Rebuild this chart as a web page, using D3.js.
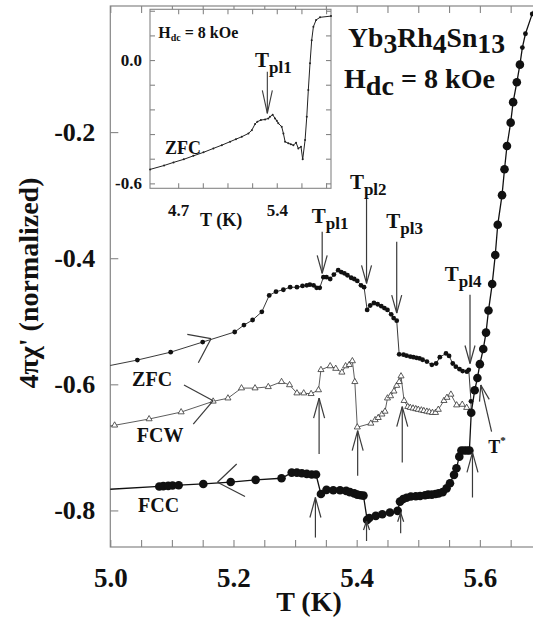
<!DOCTYPE html>
<html><head><meta charset="utf-8">
<script src="https://cdn.jsdelivr.net/npm/d3@7"></script>
<style>
body{margin:0;background:#fff}
svg{display:block}
text{font-family:"Liberation Serif","Times New Roman",serif;font-weight:bold;fill:#111}
</style>
</head><body>
<svg id="c" width="533" height="624"></svg>
<script>
// ---------------- data (T in K, 4πχ' normalized) ----------------
const zfcT = [4.98,5.044,5.098,5.150,5.202,5.217,5.231,5.246,5.258,5.269,5.281,5.292,5.303,5.312,5.319,5.324,5.330,5.335,5.340,
  5.346,5.351,5.357,5.363,5.370,5.375,5.380,5.385,5.391,5.396,5.401,5.407,5.412,
  5.417,5.422,5.428,5.434,5.440,5.445,5.450,5.456,5.460,5.465,
  5.469,5.476,5.481,5.487,5.492,5.497,5.502,5.507,5.514,5.522,5.529,5.535,5.545,5.550,5.556,5.561,5.567,5.572,5.579,5.582,5.5856,5.586];
const zfcV = [-0.574,-0.5615,-0.549,-0.533,-0.517,-0.506,-0.498,-0.485,-0.459,-0.453,-0.450,-0.446,-0.446,-0.444,-0.443,-0.442,-0.443,-0.447,-0.447,
  -0.430,-0.430,-0.433,-0.426,-0.419,-0.422,-0.424,-0.427,-0.431,-0.433,-0.436,-0.443,-0.446,
  -0.482,-0.475,-0.471,-0.473,-0.476,-0.479,-0.482,-0.489,-0.495,-0.499,
  -0.5525,-0.553,-0.5545,-0.556,-0.557,-0.558,-0.559,-0.561,-0.564,-0.569,-0.567,-0.557,-0.551,-0.555,-0.567,-0.572,-0.576,-0.579,-0.580,-0.577,-0.627,-0.645];

const fcwT = [4.98,5.007,5.063,5.115,5.167,5.191,5.213,5.235,5.2565,5.278,5.291,5.303,5.314,5.326,5.338,
  5.342,5.357,5.366,5.376,5.382,5.388,5.393,5.397,
  5.401,5.423,5.430,5.435,5.441,5.446,5.450,5.455,5.4605,5.465,5.469,5.472,
  5.477,5.483,5.487,5.4915,5.496,5.500,5.505,5.509,5.514,5.518,5.523,5.528,5.5325,5.5417,5.5466,5.553,5.5623,5.5714,5.5786,5.586];
const fcwV = [-0.669,-0.665,-0.655,-0.644,-0.627,-0.622,-0.606,-0.606,-0.604,-0.596,-0.601,-0.614,-0.614,-0.615,-0.609,
  -0.577,-0.571,-0.575,-0.581,-0.571,-0.569,-0.563,-0.596,
  -0.668,-0.662,-0.6565,-0.653,-0.6475,-0.643,-0.622,-0.6185,-0.611,-0.602,-0.596,-0.587,
  -0.626,-0.6355,-0.637,-0.638,-0.639,-0.640,-0.641,-0.642,-0.643,-0.644,-0.645,-0.645,-0.640,-0.626,-0.621,-0.616,-0.633,-0.632,-0.637,-0.645];

const fccT = [4.98,5.0795,5.086,5.094,5.101,5.111,5.151,5.1955,5.236,5.278,5.2945,5.303,5.311,5.319,5.327,5.334,
  5.342,5.351,5.362,5.373,5.383,5.389,5.396,5.401,5.4065,5.411,
  5.417,5.4205,5.431,5.4416,5.454,5.4665,
  5.4703,5.4756,5.481,5.488,5.496,5.503,5.511,5.516,5.522,5.528,5.533,5.5396,5.546,5.5515,5.558,5.562,5.5666,
  5.570,5.5745,5.579,5.583,
  5.586,5.5916,5.596,5.600,5.6055,5.610,5.614,5.620,5.625,5.629,5.636,5.640,5.644,5.650,5.654,5.660,5.665];
const fccV = [-0.7675,-0.762,-0.7615,-0.761,-0.7605,-0.760,-0.758,-0.755,-0.7515,-0.749,-0.740,-0.740,-0.741,-0.742,-0.743,-0.743,
  -0.774,-0.7674,-0.768,-0.768,-0.769,-0.771,-0.773,-0.775,-0.776,-0.7765,
  -0.815,-0.812,-0.8086,-0.806,-0.8033,-0.8007,
  -0.786,-0.782,-0.780,-0.778,-0.7774,-0.777,-0.776,-0.775,-0.775,-0.774,-0.773,-0.771,-0.765,-0.757,-0.7436,-0.733,-0.7147,
  -0.705,-0.705,-0.705,-0.705,
  -0.645,-0.6095,-0.590,-0.568,-0.544,-0.518,-0.483,-0.441,-0.395,-0.347,-0.300,-0.259,-0.222,-0.185,-0.1525,-0.121,-0.093];
// continuation of the steep rise (smaller symbols)
const riseT = [5.665,5.669,5.674,5.685,5.692];
const riseV = [-0.093,-0.066,-0.044,-0.0125,0.004];

// inset ZFC curve
const insT = [4.501,4.60,4.667,4.74,4.808,4.88,4.95,5.01,5.069,5.11,5.152,5.199,5.223,5.246,5.262,5.287,5.317,5.34,5.352,5.371,
  5.388,5.40,5.411,5.435,5.447,5.459,5.482,5.50,5.518,5.537,5.553,5.572,5.584,5.601,5.613,5.624,5.636,5.648,5.66,5.679,5.707,5.785];
const insV = [-0.532,-0.513,-0.498,-0.483,-0.466,-0.449,-0.430,-0.414,-0.397,-0.385,-0.373,-0.357,-0.341,-0.311,-0.300,-0.292,-0.289,-0.284,-0.276,-0.266,
  -0.284,-0.295,-0.308,-0.324,-0.357,-0.397,-0.405,-0.410,-0.414,-0.402,-0.430,-0.422,-0.483,-0.389,-0.276,-0.146,-0.016,0.097,0.162,0.195,0.208,0.214];

// ticks
const xTickVals = d3.range(0,14).map(i => +(5 + i*0.05).toFixed(2));
const xTickLabels = [5.0,5.2,5.4,5.6];
const yTickVals = [-0.8,-0.6,-0.4,-0.2];
const insXTickVals = [4.7,4.875,5.05,5.225,5.4,5.575,5.75];
const insXTickLabels = [4.7,5.4];
const insYTickVals = [-0.6,-0.48,-0.36,-0.24,-0.12,0.0,0.12,0.24];
const insYTickLabels = [-0.6,0.0];

// annotations (data coordinates)
const plArrows = [ // downward arrows from T_pl labels
  {T:5.344, tip:-0.424, tail:-0.358, lab:"pl1", lT:5.327, lV:-0.344},
  {T:5.416, tip:-0.440, tail:-0.306, lab:"pl2", lT:5.389, lV:-0.290},
  {T:5.465, tip:-0.487, tail:-0.374, lab:"pl3", lT:5.448, lV:-0.352},
  {T:5.584, tip:-0.567, tail:-0.458, lab:"pl4", lT:5.543, lV:-0.436}
];
const upArrows = [
  {T:5.339, tip:-0.622, tail:-0.7105, big:true},
  {T:5.4016, tip:-0.6735, tail:-0.745, big:true},
  {T:5.474, tip:-0.6355, tail:-0.724, big:true},
  {T:5.333, tip:-0.7795, tail:-0.843, big:true},
  {T:5.416, tip:-0.8168, tail:-0.8485, big:false},
  {T:5.4714, tip:-0.8036, tail:-0.836, big:false},
  {T:5.588, tip:-0.708, tail:-0.7795, big:true}
];
const tStar = {T1:5.619, V1:-0.675, T2:5.6015, V2:-0.601, lT:5.6137, lV:-0.709};
const sweepMarks = [ // direction arrowheads next to the labels
  {v:[5.1635,-0.5276], a:[5.125,-0.5207], b:[5.1429,-0.5657]},
  {v:[5.167,-0.626], a:[5.1196,-0.601], b:[5.1347,-0.663]},
  {v:[5.174,-0.7554], a:[5.2052,-0.7264], b:[5.2187,-0.778]}
];
const seriesLabels = [
  {t:"ZFC", T:5.0354, V:-0.6027},
  {t:"FCW", T:5.0429, V:-0.6915},
  {t:"FCC", T:5.045, V:-0.802}
];

// ---------------- drawing ----------------
const svg = d3.select("#c");
const x = d3.scaleLinear().domain([5.0, 5.69]).range([110.3, 535.3]);
const y = d3.scaleLinear().domain([-0.858, 0.0]).range([547, 6]);
const AX = "#858585", INK = "#111", ARW = "#3a3a3a";

svg.append("defs").append("clipPath").attr("id","plot")
  .append("rect").attr("x",x(5.0)).attr("y",y(0)).attr("width",x(5.69)-x(5.0)).attr("height",y(-0.858)-y(0));

// frame
svg.append("rect").attr("x",x(5.0)).attr("y",y(0)).attr("width",x(5.69)-x(5.0)).attr("height",y(-0.858)-y(0))
  .attr("fill","none").attr("stroke",AX).attr("stroke-width",1.2);

function styleAxis(g, fs){
  g.select(".domain").remove();
  g.selectAll(".tick line").attr("stroke",AX).attr("stroke-width",1.1);
  g.selectAll(".tick text").attr("fill",INK).style("font-size",fs+"px")
    .style("font-family","'Liberation Serif','Times New Roman',serif").style("font-weight","bold");
}
const fmtX = d => xTickLabels.some(v => Math.abs(v-d)<1e-6) ? d.toFixed(1) : "";
svg.append("g").attr("transform",`translate(0,${y(-0.858)})`)
  .call(d3.axisBottom(x).tickValues(xTickVals).tickSize(-7).tickPadding(21).tickFormat(fmtX))
  .call(g => styleAxis(g,27));
svg.append("g").attr("transform",`translate(0,${y(0)})`)
  .call(d3.axisTop(x).tickValues(xTickVals).tickSize(-7).tickFormat(""))
  .call(g => styleAxis(g,27));
svg.append("g").attr("transform",`translate(${x(5.0)},0)`)
  .call(d3.axisLeft(y).tickValues(yTickVals).tickSize(-8).tickPadding(15).tickFormat(d => d.toFixed(1)))
  .call(g => styleAxis(g,26));

// axis titles
svg.append("text").attr("x", 309).attr("y",611).attr("text-anchor","middle")
  .style("font-size","28px").text("T (K)");
svg.append("text").attr("transform","translate(38,283) rotate(-90)").attr("text-anchor","middle")
  .style("font-size","28px").text("4πχ' (normalized)");

// data
const plot = svg.append("g").attr("clip-path","url(#plot)");
const line = d3.line().x(d=>x(d[0])).y(d=>y(d[1]));
const zfc = zfcT.map((t,i)=>[t,zfcV[i]]);
const fcw = fcwT.map((t,i)=>[t,fcwV[i]]);
const fcc = fccT.map((t,i)=>[t,fccV[i]]);
const rise = riseT.map((t,i)=>[t,riseV[i]]);

plot.append("path").datum(fcw).attr("d",line).attr("fill","none").attr("stroke","#333").attr("stroke-width",0.8);
plot.append("path").datum(zfc).attr("d",line).attr("fill","none").attr("stroke","#222").attr("stroke-width",0.9);
plot.append("path").datum(fcc).attr("d",line).attr("fill","none").attr("stroke",INK).attr("stroke-width",1.3);
plot.append("path").datum(rise).attr("d",line).attr("fill","none").attr("stroke",INK).attr("stroke-width",1.3);

plot.selectAll(".fcw").data(fcw.slice(1, fcw.length-1)).join("path")
  .attr("transform",d=>`translate(${x(d[0])},${y(d[1])})`)
  .attr("d",d3.symbol(d3.symbolTriangle,16)).attr("fill","#fff").attr("stroke","#333").attr("stroke-width",0.8);
plot.selectAll(".zfc").data(zfc.slice(1, zfc.length-1)).join("circle")
  .attr("cx",d=>x(d[0])).attr("cy",d=>y(d[1])).attr("r",2.4).attr("fill",INK);
plot.selectAll(".fcc").data(fcc.slice(1)).join("circle")
  .attr("cx",d=>x(d[0])).attr("cy",d=>y(d[1])).attr("r",4.3).attr("fill",INK);
plot.selectAll(".rise").data(rise.slice(1)).join("circle")
  .attr("cx",d=>x(d[0])).attr("cy",d=>y(d[1])).attr("r",2.4).attr("fill",INK);

// arrows
function arrow(g, x1,y1,x2,y2, len, hw){
  const dx=x2-x1, dy=y2-y1, L=Math.hypot(dx,dy), ux=dx/L, uy=dy/L;
  const bx=x2-ux*len, by=y2-uy*len;
  g.append("line").attr("x1",x1).attr("y1",y1).attr("x2",x2).attr("y2",y2);
  g.append("line").attr("x1",bx-uy*hw).attr("y1",by+ux*hw).attr("x2",x2).attr("y2",y2);
  g.append("line").attr("x1",bx+uy*hw).attr("y1",by-ux*hw).attr("x2",x2).attr("y2",y2);
}
const ag = svg.append("g").attr("stroke",ARW).attr("stroke-width",1.2).attr("fill","none");
plArrows.forEach(a => arrow(ag, x(a.T), y(a.tail), x(a.T), y(a.tip), 18, 5));
upArrows.forEach(a => arrow(ag, x(a.T), y(a.tail), x(a.T), y(a.tip), a.big?20:9, a.big?5.5:3));
arrow(ag, x(tStar.T1), y(tStar.V1), x(tStar.T2), y(tStar.V2), 16, 5);
sweepMarks.forEach(s => {
  ag.append("line").attr("x1",x(s.a[0])).attr("y1",y(s.a[1])).attr("x2",x(s.v[0])).attr("y2",y(s.v[1]));
  ag.append("line").attr("x1",x(s.b[0])).attr("y1",y(s.b[1])).attr("x2",x(s.v[0])).attr("y2",y(s.v[1]));
});

// labels
plArrows.forEach(a => {
  const t = svg.append("text").attr("x",x(a.lT)).attr("y",y(a.lV)).style("font-size","21px");
  t.append("tspan").text("T");
  t.append("tspan").attr("dy",6).style("font-size","17px").text(a.lab);
});
const ts = svg.append("text").attr("x",x(tStar.lT)).attr("y",y(tStar.lV)).style("font-size","18px");
ts.append("tspan").text("T");
ts.append("tspan").attr("dy",-9).style("font-size","11px").text("*");
seriesLabels.forEach(s => svg.append("text").attr("x",x(s.T)).attr("y",y(s.V)).style("font-size","20px").text(s.t));

// title
const t1 = svg.append("text").attr("x",348).attr("y",47).style("font-size","27px")
  .attr("textLength",157).attr("lengthAdjust","spacingAndGlyphs");
[["Yb",0],["3",6],["Rh",-6],["4",6],["Sn",-6],["13",6]].forEach(p => t1.append("tspan").attr("dy",p[1]).text(p[0]));
const t2 = svg.append("text").attr("x",344).attr("y",88).style("font-size","28px")
  .attr("textLength",151).attr("lengthAdjust","spacingAndGlyphs");
[["H",0],["dc",7],[" = 8 kOe",-7]].forEach(p => t2.append("tspan").attr("dy",p[1]).text(p[0]));

// ---------------- inset ----------------
const ix = d3.scaleLinear().domain([4.5, 5.785]).range([150, 331]);
const iy = d3.scaleLinear().domain([-0.624, 0.247]).range([188.3, 9.3]);
const ins = svg.append("g");
ins.append("rect").attr("x",ix(4.5)).attr("y",iy(0.247)).attr("width",ix(5.785)-ix(4.5)).attr("height",iy(-0.624)-iy(0.247))
  .attr("fill","#fff").attr("stroke",AX).attr("stroke-width",1.1);
const fmtIX = d => insXTickLabels.some(v=>Math.abs(v-d)<1e-6) ? d.toFixed(1) : "";
const fmtIY = d => insYTickLabels.some(v=>Math.abs(v-d)<1e-6) ? d.toFixed(1) : "";
ins.append("g").attr("transform",`translate(0,${iy(-0.624)})`)
  .call(d3.axisBottom(ix).tickValues(insXTickVals).tickSize(-5).tickPadding(16).tickFormat(fmtIX)).call(g=>styleAxis(g,17));
ins.append("g").attr("transform",`translate(0,${iy(0.247)})`)
  .call(d3.axisTop(ix).tickValues(insXTickVals).tickSize(-5).tickFormat("")).call(g=>styleAxis(g,17));
ins.append("g").attr("transform",`translate(${ix(4.5)},0)`)
  .call(d3.axisLeft(iy).tickValues(insYTickVals).tickSize(-5).tickPadding(8).tickFormat(fmtIY)).call(g=>styleAxis(g,17));
ins.append("g").attr("transform",`translate(${ix(5.785)},0)`)
  .call(d3.axisRight(iy).tickValues(insYTickVals).tickSize(-5).tickFormat("")).call(g=>styleAxis(g,17));
const ins_d = insT.map((t,i)=>[t,insV[i]]);
const iline = d3.line().x(d=>ix(d[0])).y(d=>iy(d[1]));
ins.append("path").datum(ins_d).attr("d",iline).attr("fill","none").attr("stroke","#222").attr("stroke-width",1);
ins.selectAll(".ip").data(ins_d).join("circle").attr("cx",d=>ix(d[0])).attr("cy",d=>iy(d[1])).attr("r",1).attr("fill","#222");
const iag = ins.append("g").attr("stroke",ARW).attr("stroke-width",1.1);
arrow(iag, ix(5.333), iy(-0.057), ix(5.333), iy(-0.259), 23, 5);
const it = ins.append("text").attr("x",ix(5.2454)).attr("y",iy(-0.0326)).style("font-size","21px");
it.append("tspan").text("T"); it.append("tspan").attr("dy",6).style("font-size","17px").text("pl1");
const ih = ins.append("text").attr("x",ix(4.559)).attr("y",iy(0.1056)).style("font-size","16px");
ih.append("tspan").text("H"); ih.append("tspan").attr("dy",3).style("font-size","10px").text("dc");
ih.append("tspan").attr("dy",-3).text(" = 8 kOe");
ins.append("text").attr("x",ix(4.607)).attr("y",iy(-0.457)).style("font-size","18px").text("ZFC");
ins.append("text").attr("x",200).attr("y",226).style("font-size","18px").text("T (K)");
</script>
</body></html>
